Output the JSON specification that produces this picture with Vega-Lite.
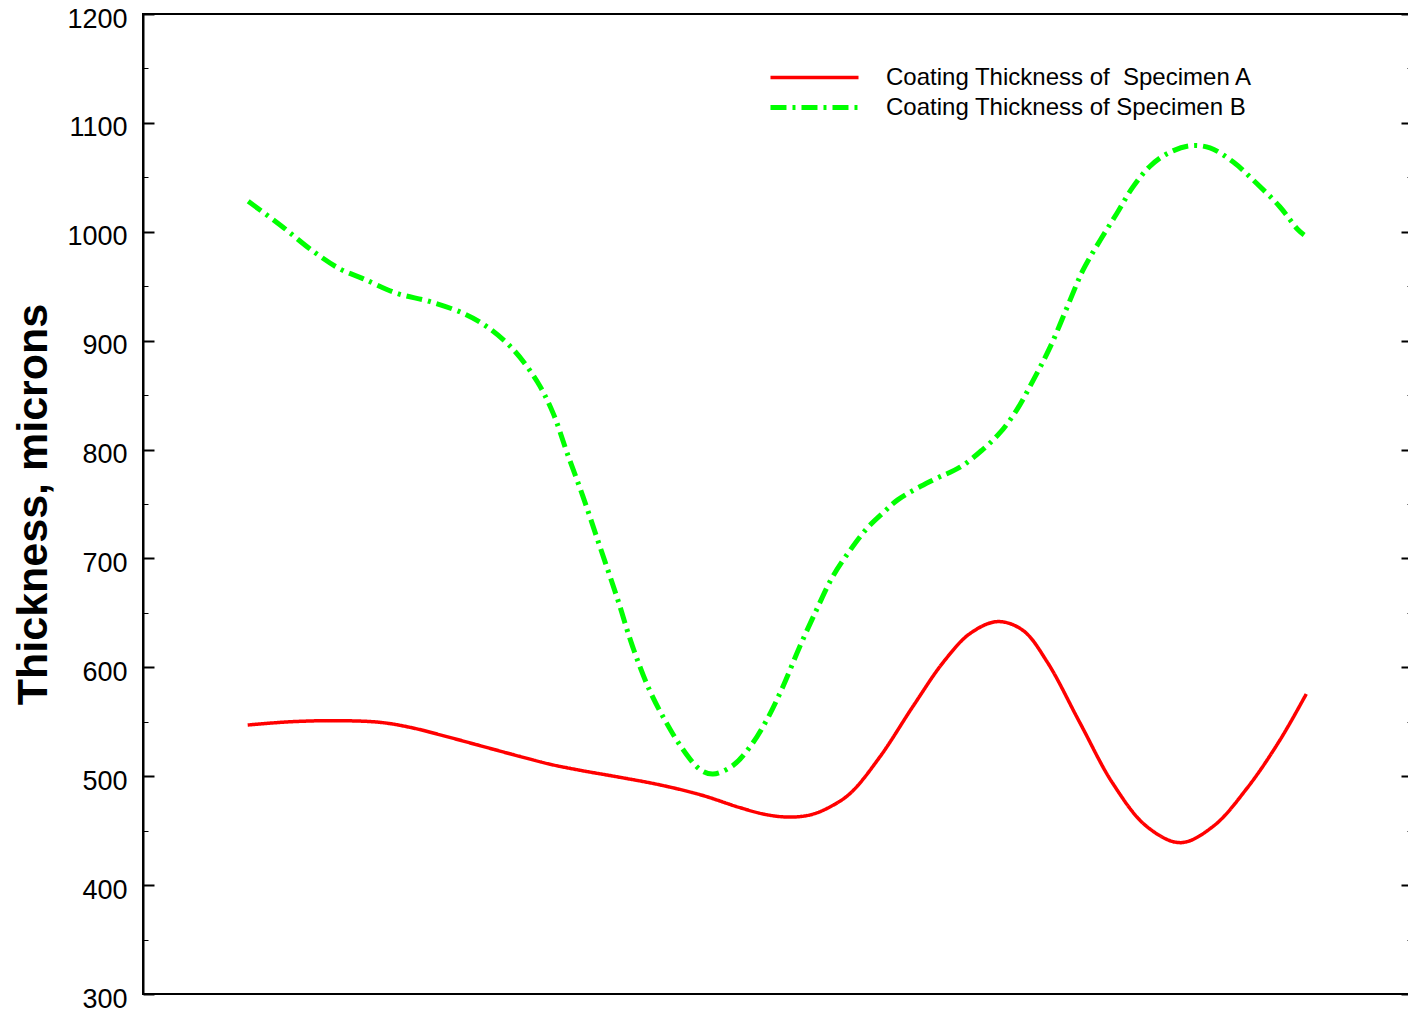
{
  "$schema": "https://vega.github.io/schema/vega-lite/v6.json",
  "width": 1269,
  "height": 980,
  "autosize": "none",
  "padding": {"left": 143, "top": 14, "right": 0, "bottom": 18},
  "background": "white",
  "config": {
    "font": "Liberation Sans",
    "view": {"stroke": "black", "strokeWidth": 2}
  },
  "layer": [
    {
      "data": {
        "values": [
          {"series": "Coating Thickness of \u00a0Specimen A", "pos": 0.99, "thickness": 547},
          {"series": "Coating Thickness of \u00a0Specimen A", "pos": 1.39, "thickness": 550},
          {"series": "Coating Thickness of \u00a0Specimen A", "pos": 1.82, "thickness": 551},
          {"series": "Coating Thickness of \u00a0Specimen A", "pos": 2.24, "thickness": 549.5},
          {"series": "Coating Thickness of \u00a0Specimen A", "pos": 2.52, "thickness": 545},
          {"series": "Coating Thickness of \u00a0Specimen A", "pos": 2.81, "thickness": 538},
          {"series": "Coating Thickness of \u00a0Specimen A", "pos": 3.19, "thickness": 528},
          {"series": "Coating Thickness of \u00a0Specimen A", "pos": 3.57, "thickness": 518},
          {"series": "Coating Thickness of \u00a0Specimen A", "pos": 3.85, "thickness": 511},
          {"series": "Coating Thickness of \u00a0Specimen A", "pos": 4.13, "thickness": 505.5},
          {"series": "Coating Thickness of \u00a0Specimen A", "pos": 4.51, "thickness": 499},
          {"series": "Coating Thickness of \u00a0Specimen A", "pos": 4.89, "thickness": 492},
          {"series": "Coating Thickness of \u00a0Specimen A", "pos": 5.27, "thickness": 483},
          {"series": "Coating Thickness of \u00a0Specimen A", "pos": 5.65, "thickness": 471},
          {"series": "Coating Thickness of \u00a0Specimen A", "pos": 5.88, "thickness": 465},
          {"series": "Coating Thickness of \u00a0Specimen A", "pos": 6.10, "thickness": 462.5},
          {"series": "Coating Thickness of \u00a0Specimen A", "pos": 6.31, "thickness": 464.5},
          {"series": "Coating Thickness of \u00a0Specimen A", "pos": 6.50, "thickness": 472},
          {"series": "Coating Thickness of \u00a0Specimen A", "pos": 6.69, "thickness": 484.5},
          {"series": "Coating Thickness of \u00a0Specimen A", "pos": 6.97, "thickness": 518},
          {"series": "Coating Thickness of \u00a0Specimen A", "pos": 7.28, "thickness": 564},
          {"series": "Coating Thickness of \u00a0Specimen A", "pos": 7.57, "thickness": 605},
          {"series": "Coating Thickness of \u00a0Specimen A", "pos": 7.82, "thickness": 631},
          {"series": "Coating Thickness of \u00a0Specimen A", "pos": 8.08, "thickness": 642},
          {"series": "Coating Thickness of \u00a0Specimen A", "pos": 8.32, "thickness": 634},
          {"series": "Coating Thickness of \u00a0Specimen A", "pos": 8.55, "thickness": 605},
          {"series": "Coating Thickness of \u00a0Specimen A", "pos": 8.86, "thickness": 549},
          {"series": "Coating Thickness of \u00a0Specimen A", "pos": 9.17, "thickness": 493.5},
          {"series": "Coating Thickness of \u00a0Specimen A", "pos": 9.49, "thickness": 454},
          {"series": "Coating Thickness of \u00a0Specimen A", "pos": 9.81, "thickness": 439},
          {"series": "Coating Thickness of \u00a0Specimen A", "pos": 10.12, "thickness": 454},
          {"series": "Coating Thickness of \u00a0Specimen A", "pos": 10.44, "thickness": 489},
          {"series": "Coating Thickness of \u00a0Specimen A", "pos": 10.75, "thickness": 533},
          {"series": "Coating Thickness of \u00a0Specimen A", "pos": 11.0, "thickness": 575.5},
          {"series": "Coating Thickness of Specimen B", "pos": 0.995, "thickness": 1028},
          {"series": "Coating Thickness of Specimen B", "pos": 1.30, "thickness": 1006},
          {"series": "Coating Thickness of Specimen B", "pos": 1.61, "thickness": 982},
          {"series": "Coating Thickness of Specimen B", "pos": 1.86, "thickness": 966},
          {"series": "Coating Thickness of Specimen B", "pos": 2.08, "thickness": 957},
          {"series": "Coating Thickness of Specimen B", "pos": 2.40, "thickness": 943.5},
          {"series": "Coating Thickness of Specimen B", "pos": 2.71, "thickness": 936},
          {"series": "Coating Thickness of Specimen B", "pos": 3.03, "thickness": 925},
          {"series": "Coating Thickness of Specimen B", "pos": 3.25, "thickness": 913},
          {"series": "Coating Thickness of Specimen B", "pos": 3.50, "thickness": 892},
          {"series": "Coating Thickness of Specimen B", "pos": 3.73, "thickness": 862},
          {"series": "Coating Thickness of Specimen B", "pos": 3.88, "thickness": 833},
          {"series": "Coating Thickness of Specimen B", "pos": 4.01, "thickness": 797},
          {"series": "Coating Thickness of Specimen B", "pos": 4.16, "thickness": 757},
          {"series": "Coating Thickness of Specimen B", "pos": 4.32, "thickness": 711},
          {"series": "Coating Thickness of Specimen B", "pos": 4.48, "thickness": 665},
          {"series": "Coating Thickness of Specimen B", "pos": 4.63, "thickness": 619},
          {"series": "Coating Thickness of Specimen B", "pos": 4.79, "thickness": 579},
          {"series": "Coating Thickness of Specimen B", "pos": 4.95, "thickness": 549},
          {"series": "Coating Thickness of Specimen B", "pos": 5.11, "thickness": 524},
          {"series": "Coating Thickness of Specimen B", "pos": 5.27, "thickness": 506},
          {"series": "Coating Thickness of Specimen B", "pos": 5.39, "thickness": 502},
          {"series": "Coating Thickness of Specimen B", "pos": 5.58, "thickness": 510},
          {"series": "Coating Thickness of Specimen B", "pos": 5.74, "thickness": 527},
          {"series": "Coating Thickness of Specimen B", "pos": 5.90, "thickness": 552},
          {"series": "Coating Thickness of Specimen B", "pos": 6.05, "thickness": 582},
          {"series": "Coating Thickness of Specimen B", "pos": 6.21, "thickness": 619},
          {"series": "Coating Thickness of Specimen B", "pos": 6.37, "thickness": 653},
          {"series": "Coating Thickness of Specimen B", "pos": 6.52, "thickness": 683},
          {"series": "Coating Thickness of Specimen B", "pos": 6.69, "thickness": 708},
          {"series": "Coating Thickness of Specimen B", "pos": 6.85, "thickness": 728},
          {"series": "Coating Thickness of Specimen B", "pos": 7.00, "thickness": 742},
          {"series": "Coating Thickness of Specimen B", "pos": 7.14, "thickness": 754},
          {"series": "Coating Thickness of Specimen B", "pos": 7.47, "thickness": 772},
          {"series": "Coating Thickness of Specimen B", "pos": 7.73, "thickness": 784},
          {"series": "Coating Thickness of Specimen B", "pos": 7.94, "thickness": 800},
          {"series": "Coating Thickness of Specimen B", "pos": 8.10, "thickness": 815},
          {"series": "Coating Thickness of Specimen B", "pos": 8.26, "thickness": 836},
          {"series": "Coating Thickness of Specimen B", "pos": 8.42, "thickness": 864},
          {"series": "Coating Thickness of Specimen B", "pos": 8.58, "thickness": 894.5},
          {"series": "Coating Thickness of Specimen B", "pos": 8.74, "thickness": 931},
          {"series": "Coating Thickness of Specimen B", "pos": 8.89, "thickness": 965},
          {"series": "Coating Thickness of Specimen B", "pos": 9.05, "thickness": 992},
          {"series": "Coating Thickness of Specimen B", "pos": 9.21, "thickness": 1017},
          {"series": "Coating Thickness of Specimen B", "pos": 9.36, "thickness": 1041},
          {"series": "Coating Thickness of Specimen B", "pos": 9.52, "thickness": 1060},
          {"series": "Coating Thickness of Specimen B", "pos": 9.69, "thickness": 1072},
          {"series": "Coating Thickness of Specimen B", "pos": 9.90, "thickness": 1079},
          {"series": "Coating Thickness of Specimen B", "pos": 10.09, "thickness": 1077},
          {"series": "Coating Thickness of Specimen B", "pos": 10.31, "thickness": 1064},
          {"series": "Coating Thickness of Specimen B", "pos": 10.53, "thickness": 1044.5},
          {"series": "Coating Thickness of Specimen B", "pos": 10.75, "thickness": 1023},
          {"series": "Coating Thickness of Specimen B", "pos": 10.92, "thickness": 1002},
          {"series": "Coating Thickness of Specimen B", "pos": 10.98, "thickness": 997}
        ]
      },
      "mark": {"type": "line", "interpolate": "catmull-rom"},
      "encoding": {
        "x": {"field": "pos", "type": "quantitative", "scale": {"domain": [0, 12], "nice": false, "zero": false}, "axis": null},
        "y": {
          "field": "thickness", "type": "quantitative",
          "scale": {"domain": [300, 1200], "nice": false, "zero": false},
          "axis": {
            "orient": "left",
            "values": [300, 350, 400, 450, 500, 550, 600, 650, 700, 750, 800, 850, 900, 950, 1000, 1050, 1100, 1150, 1200],
            "format": "d",
            "labelExpr": "datum.value % 100 === 0 ? datum.label : ''",
            "labelFontSize": 27,
            "labelColor": "black",
            "labelPadding": 27,
            "labelOffset": 5,
            "labelFlush": false,
            "labelOverlap": false,
            "labelBound": false,
            "tickColor": "black",
            "tickSize": {"condition": {"test": "datum.value % 100 === 0", "value": -11}, "value": -5},
            "tickWidth": {"condition": {"test": "datum.value % 100 === 0", "value": 2}, "value": 1},
            "domainColor": "black",
            "domainWidth": 2,
            "grid": false,
            "title": "Thickness, microns",
            "titleFontSize": 43,
            "titleFontWeight": "bold",
            "titleColor": "black",
            "titleX": -110,
            "titleY": 490,
            "titleAngle": -90,
            "titleAlign": "center",
            "titleBaseline": "middle"
          }
        },
        "color": {
          "field": "series", "type": "nominal",
          "scale": {"domain": ["Coating Thickness of \u00a0Specimen A", "Coating Thickness of Specimen B"], "range": ["#ff0000", "#00ff00"]},
          "legend": {
            "orient": "none", "legendX": 654, "legendY": 47, "title": null,
            "symbolType": "M-3,0L3,0", "symbolSize": 861, "symbolStrokeWidth": 4,
            "labelFontSize": 24, "labelColor": "black", "labelOffset": 54, "rowPadding": 0,
            "padding": 0, "labelLimit": 600
          }
        },
        "strokeDash": {
          "field": "series", "type": "nominal",
          "scale": {"domain": ["Coating Thickness of \u00a0Specimen A", "Coating Thickness of Specimen B"], "range": [[1, 0], [16, 6, 3, 6]]},
          "legend": {
            "orient": "none", "legendX": 654, "legendY": 47, "title": null,
            "symbolType": "M-3,0L3,0", "symbolSize": 861, "symbolStrokeWidth": 4,
            "labelFontSize": 24, "labelColor": "black", "labelOffset": 54, "rowPadding": 0,
            "padding": 0, "labelLimit": 600
          }
        },
        "strokeWidth": {
          "field": "series", "type": "nominal",
          "scale": {"domain": ["Coating Thickness of \u00a0Specimen A", "Coating Thickness of Specimen B"], "range": [3.5, 5]},
          "legend": null
        }
      }
    },
    {
      "data": {"values": [{}]},
      "mark": {"type": "rule", "color": "black", "strokeWidth": 2},
      "encoding": {
        "y": {
          "datum": 300, "type": "quantitative",
          "axis": {
            "orient": "right",
            "values": [300, 350, 400, 450, 500, 550, 600, 650, 700, 750, 800, 850, 900, 950, 1000, 1050, 1100, 1150, 1200],
            "labels": false,
            "title": null,
            "domain": false,
            "grid": false,
            "tickColor": "black",
            "tickSize": {"condition": {"test": "datum.value % 100 === 0", "value": -11}, "value": -5},
            "tickWidth": {"condition": {"test": "datum.value % 100 === 0", "value": 2}, "value": 1}
          }
        }
      }
    }
  ],
  "resolve": {"axis": {"y": "independent"}}
}
